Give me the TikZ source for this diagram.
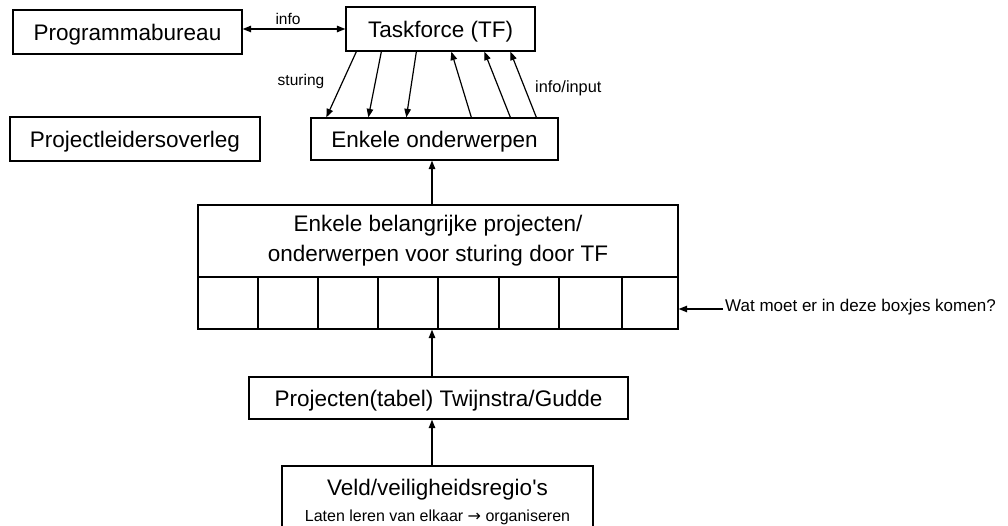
\documentclass[tikz,border=0pt]{standalone}
\usepackage{fontspec}
\setmainfont{Liberation Sans}
\newfontfamily\dejavu{DejaVu Sans}
\usetikzlibrary{arrows.meta,calc}
\begin{document}
\begin{tikzpicture}[x=1pt,y=-1pt,
  box/.style={draw,line width=1.3pt,inner sep=0pt,align=center,font=\fontsize{22.5}{30}\selectfont},
  onel/.style={text height=16.1pt,text depth=0pt},
  cell/.style={draw,line width=1.3pt,inner sep=0pt,minimum height=52pt},
  lbl/.style={font=\fontsize{15.5}{18}\selectfont,inner sep=0pt},
  arr/.style={line width=1.2pt,-{Triangle[length=8.5pt,width=6.5pt]}},
]
\clip (0,0) rectangle (1008,526);
\fill[white] (0,0) rectangle (1008,526);
\coordinate (ax) at (432,0);
\coordinate (wy) at (0,309);

\node[box,onel,minimum width=229pt,minimum height=44pt] (pb) at (127.5,32) {Programmabureau};
\node[box,onel,minimum width=189pt,minimum height=44pt] (tf) at (440.5,29) {Taskforce (TF)};
\node[box,onel,minimum width=250pt,minimum height=44pt] (pl) at (135,139) {Projectleidersoverleg};
\node[box,onel,minimum width=247pt,minimum height=42pt] (ow) at (434.5,139) {Enkele onderwerpen};
\node[box,minimum width=480pt,minimum height=72pt] (bp) at (438,241) {Enkele belangrijke projecten/\\onderwerpen voor sturing door TF};
\node[cell,minimum width=60pt] (c1) at (228,303) {};
\node[cell,minimum width=60pt] (c2) at (288,303) {};
\node[cell,minimum width=60pt] (c3) at (348,303) {};
\node[cell,minimum width=60pt] (c4) at (408,303) {};
\node[cell,minimum width=61pt] (c5) at (468.5,303) {};
\node[cell,minimum width=60pt] (c6) at (529,303) {};
\node[cell,minimum width=63pt] (c7) at (590.5,303) {};
\node[cell,minimum width=56pt] (c8) at (650,303) {};
\node[box,onel,minimum width=379pt,minimum height=42pt] (pt) at (438.5,398) {Projecten(tabel) Twijnstra/Gudde};
\node[box,minimum width=311pt,minimum height=72pt] (vr) at (437.5,502) {Veld/veiligheidsregio\textquotesingle s\\[-4pt]{\fontsize{16}{19}\selectfont Laten leren van elkaar {\dejavu →} organiseren}};

\node[lbl] (info) at (288,19) {info};
\node[lbl] (stu) at (301,81) {sturing};
\node[lbl,anchor=west,font=\fontsize{16.3}{19}\selectfont] (ii) at (535,88) {info/input};
\node[lbl,anchor=west,font=\fontsize{17}{20}\selectfont] (wat) at (725,307) {Wat moet er in deze boxjes komen?};

\draw[line width=1.2pt,{Triangle[length=8.5pt,width=6.5pt]}-{Triangle[length=8.5pt,width=6.5pt]}] (pb.east |- tf.west) -- (tf.west);

\draw[arr] ($(tf.south west)+(11,0)$) -- ($(ow.north west)+(16,0)$);
\draw[arr] ($(tf.south west)+(36,0)$) -- ($(ow.north west)+(58,0)$);
\draw[arr] ($(tf.south west)+(71,0)$) -- ($(ow.north west)+(96,0)$);
\draw[arr] ($(ow.north west)+(161,0)$) -- ($(tf.south west)+(106,0)$);
\draw[arr] ($(ow.north west)+(200,0)$) -- ($(tf.south west)+(139,0)$);
\draw[arr] ($(ow.north west)+(226,0)$) -- ($(tf.south west)+(165,0)$);

\draw[arr] (bp.north -| ax) -- (ow.south -| ax);
\draw[arr] (pt.north -| ax) -- (c4.south -| ax);
\draw[arr] (vr.north -| ax) -- (pt.south -| ax);
\draw[arr,shorten <=2pt] (wat.west |- wy) -- (c8.east |- wy);
\end{tikzpicture}
\end{document}
